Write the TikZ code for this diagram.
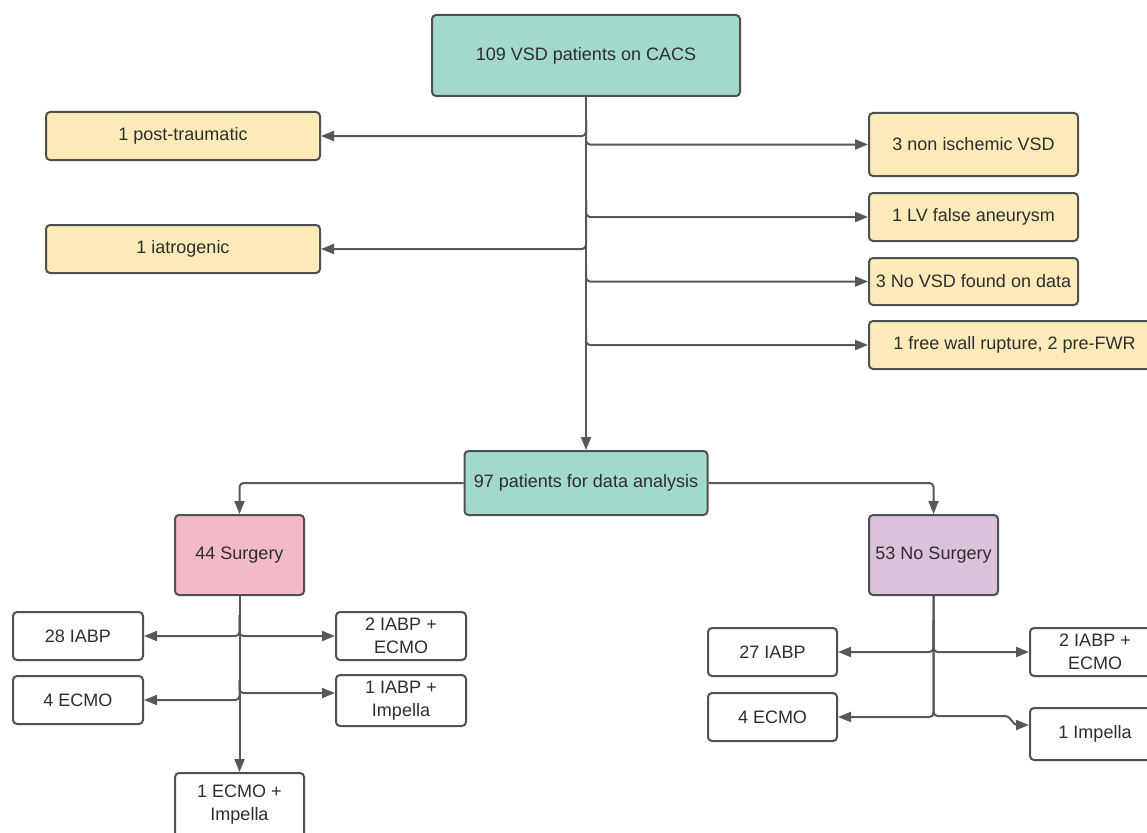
\documentclass[tikz,border=0pt]{standalone}
\usepackage{fontspec}
\setmainfont{Liberation Sans}
\usetikzlibrary{arrows.meta}
\definecolor{teal1}{HTML}{A3D9CB}
\definecolor{yel1}{HTML}{FCEBB9}
\definecolor{pink1}{HTML}{F2B9C6}
\definecolor{purp1}{HTML}{DCC1DA}
\definecolor{bord}{HTML}{505050}
\definecolor{lin}{HTML}{585858}
\definecolor{txt}{HTML}{2E2E2E}
\tikzset{
  box/.style={draw=bord, line width=2pt, rounded corners=4pt, align=center,
    inner sep=0pt, text=txt, font=\fontsize{18}{23}\selectfont},
  tealbox/.style={box, fill=teal1},
  yelbox/.style={box, fill=yel1},
  pinkbox/.style={box, fill=pink1},
  purpbox/.style={box, fill=purp1},
  whitebox/.style={box, fill=white},
  tip/.style={-{Triangle[length=13pt,width=10pt]}},
  conn/.style={draw=lin, line width=2pt, rounded corners=4pt, tip},
  plain/.style={draw=lin, line width=2pt, rounded corners=4pt}
}
\begin{document}
\begin{tikzpicture}[x=1pt,y=-1pt]
\clip (0,0) rectangle (1147,832);
\fill[white] (0,0) rectangle (1147,832);

% top level
\node[tealbox, minimum width=308pt, minimum height=81pt] (top) at (586,55.5) {109 VSD patients on CACS};
\node[yelbox, minimum width=274pt, minimum height=48pt] (pt) at (183,136) {1 post-traumatic};
\node[yelbox, minimum width=274pt, minimum height=48pt] (iat) at (183,249) {1 iatrogenic};
\node[yelbox, minimum width=209pt, minimum height=63pt] (nis) at (973.5,144.5) {3 non ischemic VSD};
\node[yelbox, minimum width=209pt, minimum height=48pt] (lv) at (973.5,217) {1 LV false aneurysm};
\node[yelbox, minimum width=209pt, minimum height=47pt] (novsd) at (973.5,281.5) {3 No VSD found on data};
\node[yelbox, minimum width=291pt, minimum height=48pt] (fwr) at (1014.5,345) {1 free wall rupture, 2 pre-FWR};

\node[tealbox, minimum width=243pt, minimum height=64pt] (data) at (586,483) {97 patients for data analysis};
\node[pinkbox, minimum width=129pt, minimum height=80pt] (surg) at (239.5,555) {44 Surgery};
\node[purpbox, minimum width=129pt, minimum height=80pt] (nosurg) at (933.5,555) {53 No Surgery};

% surgery children
\node[whitebox, minimum width=130pt, minimum height=48pt] (iabpA) at (78,636) {28 IABP};
\node[whitebox, minimum width=130pt, minimum height=48pt] (ecmoA) at (78,700) {4 ECMO};
\node[whitebox, minimum width=130pt, minimum height=48pt] (iabpecmoA) at (401,636) {2 IABP +\\ECMO};
\node[whitebox, minimum width=130pt, minimum height=51pt] (iabpimpA) at (401,700.5) {1 IABP +\\Impella};
\node[whitebox, minimum width=129pt, minimum height=64pt] (ecmoimpA) at (239.5,805) {1 ECMO +\\Impella};

% no surgery children
\node[whitebox, minimum width=129pt, minimum height=48pt] (iabpB) at (772.5,652) {27 IABP};
\node[whitebox, minimum width=129pt, minimum height=48pt] (ecmoB) at (772.5,717) {4 ECMO};
\node[whitebox, minimum width=130pt, minimum height=48pt] (iabpecmoB) at (1095,652) {2 IABP +\\ECMO};
\node[whitebox, minimum width=130pt, minimum height=52pt] (impB) at (1095,734) {1 Impella};

% main trunk
\draw[conn] (top.south) -- (data.north);
\coordinate (t1) at (586,120);
\draw[conn] (t1) |- (pt.east);
\draw[conn] (t1) |- (nis.west);
\coordinate (t2) at (586,200);
\draw[conn] (t2) |- (lv.west);
\draw[conn] (t2) |- (iat.east);
\coordinate (t3) at (586,265);
\draw[conn] (t3) |- (novsd.west);
\coordinate (t4) at (586,330);
\draw[conn] (t4) |- (fwr.west);

% split
\draw[conn] (data.west) -| (surg.north);
\draw[conn] (data.east) -| (nosurg.north);

% surgery trunk
\draw[conn] (surg.south) -- (ecmoimpA.north);
\coordinate (s1) at (239.5,615);
\draw[conn] (s1) |- (iabpA.east);
\draw[conn] (s1) |- (iabpecmoA.west);
\coordinate (s2) at (239.5,680);
\draw[conn] (s2) |- ([yshift=7.5pt]iabpimpA.west);
\draw[conn] (s2) |- (ecmoA.east);

% no surgery trunk
\coordinate (n1) at (933.5,620);
\draw[conn] (n1) |- (iabpB.east);
\draw[conn] (n1) |- (iabpecmoB.west);
\draw[conn] (nosurg.south) |- (ecmoB.east);
\coordinate (n2) at (1004,716);
\draw[plain] (nosurg.south) |- (n2);
\draw[draw=lin, line width=2pt, tip]
  (n2) .. controls (1013,716) and (1010,725) .. (1019,725) -- ([yshift=9pt]impB.west);
\end{tikzpicture}
\end{document}
